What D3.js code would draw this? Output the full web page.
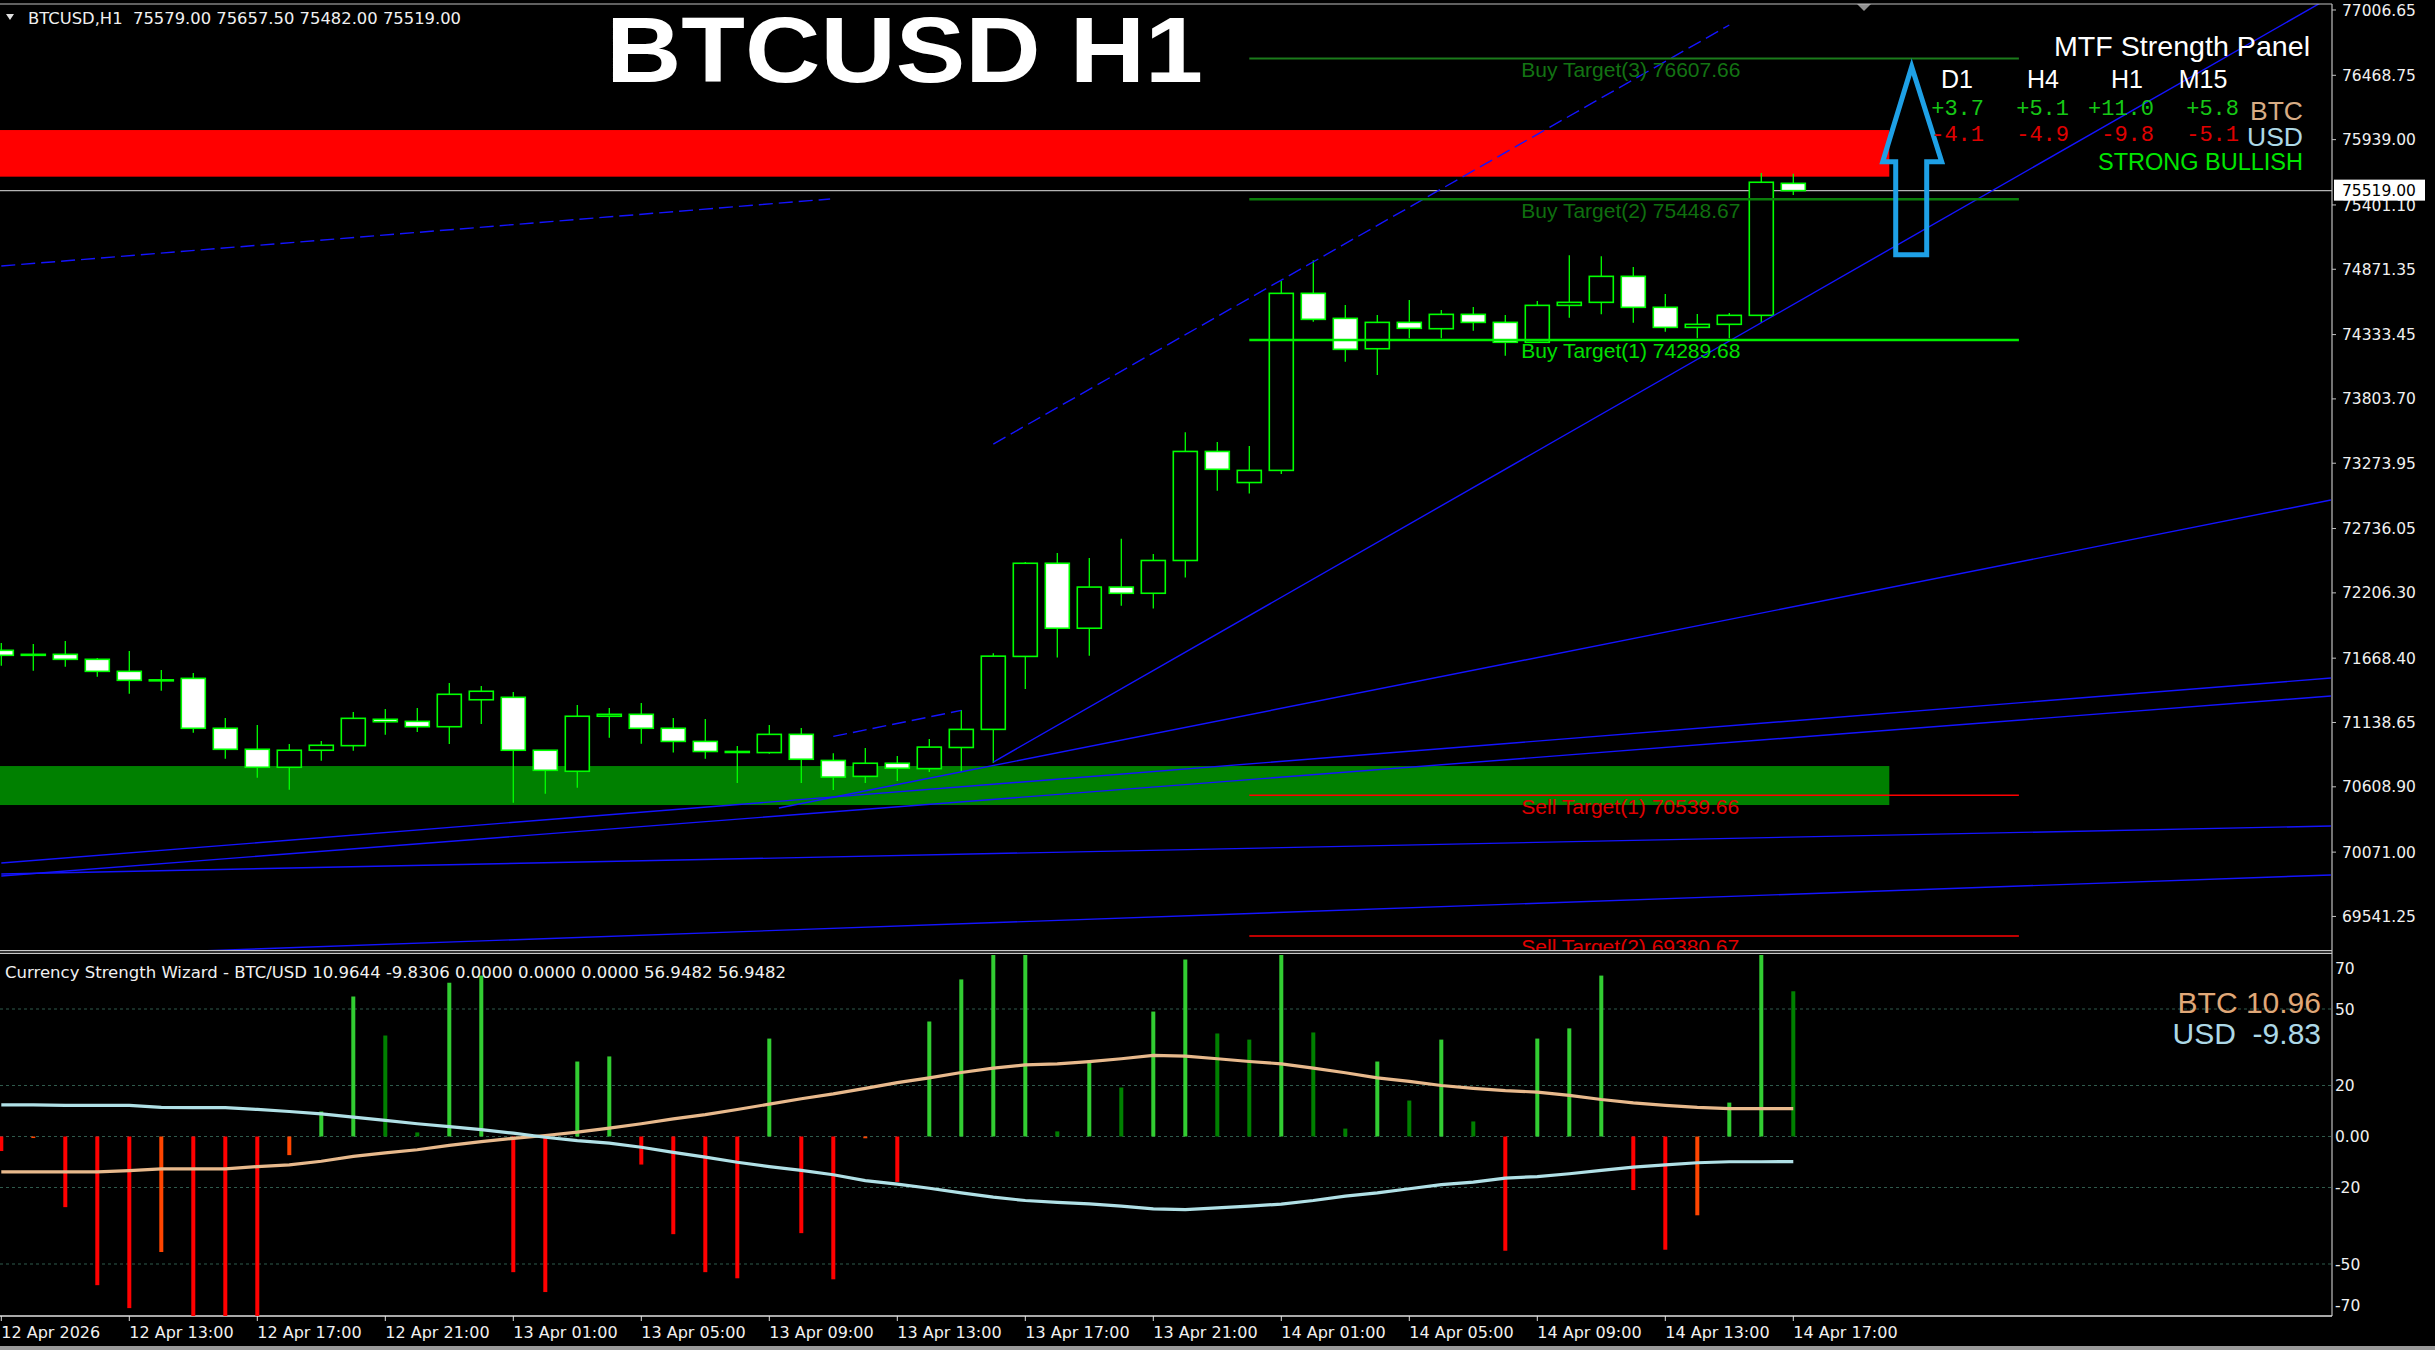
<!DOCTYPE html>
<html>
<head>
<meta charset="utf-8">
<script src="https://cdn.jsdelivr.net/npm/d3@7.9.0/dist/d3.min.js"></script>
<style>
html, body { margin: 0; padding: 0; background: #000; }
svg { display: block; }
text { white-space: pre; }
</style>
</head>
<body>
<svg id="chart" width="2435" height="1350"></svg>
<script>
// ---- data ----
const xLabelText = ["12 Apr 2026", "12 Apr 13:00", "12 Apr 17:00", "12 Apr 21:00", "13 Apr 01:00",
    "13 Apr 05:00", "13 Apr 09:00", "13 Apr 13:00", "13 Apr 17:00", "13 Apr 21:00",
    "14 Apr 01:00", "14 Apr 05:00", "14 Apr 09:00", "14 Apr 13:00", "14 Apr 17:00"];

const openP = [71733, 71700, 71700, 71659, 71560, 71490, 71502, 71091, 70918, 70770,
    70910, 70948, 71165, 71148, 71104, 71326, 71346, 70910, 70737, 71190,
    71206, 71091, 70983, 70900, 70891, 71041, 70826, 70695, 70803, 70759,
    70933, 71082, 71683, 72450, 71915, 72254, 72203, 72473, 73371, 73115,
    73215, 74673, 74467, 74217, 74434, 74382, 74500, 74434, 74270, 74574,
    74599, 74813, 74558, 74393, 74418, 74492, 75579];
const highP = [71793, 71785, 71810, 71670, 71727, 71571, 71546, 71176, 71118, 70961,
    70986, 71225, 71250, 71258, 71464, 71439, 71390, 70910, 71283, 71258,
    71299, 71176, 71168, 70945, 71118, 71094, 70886, 70929, 70863, 71003,
    71241, 71709, 72460, 72535, 72494, 72651, 72527, 73530, 73448, 73416,
    74775, 74945, 74577, 74495, 74618, 74536, 74560, 74495, 74610, 74986,
    74978, 74890, 74668, 74503, 74511, 75664, 75657.5];
const lowP = [71606, 71565, 71598, 71516, 71376, 71400, 71054, 70840, 70684, 70585,
    70824, 70906, 71038, 71060, 70961, 71126, 70478, 70552, 70602, 71013,
    70964, 70891, 70841, 70641, 70882, 70641, 70583, 70641, 70657, 70730,
    70730, 70806, 71415, 71674, 71689, 72100, 72077, 72333, 73048, 73024,
    73185, 74440, 74110, 74000, 74303, 74303, 74365, 74160, 74266, 74472,
    74500, 74431, 74357, 74303, 74303, 74431, 75482];
const closeP = [71692, 71695, 71659, 71560, 71486, 71485, 71091, 70918, 70770, 70910,
    70951, 71173, 71145, 71104, 71371, 71396, 70910, 70745, 71190, 71206,
    71091, 70983, 70900, 70895, 71041, 70836, 70689, 70803, 70762, 70936,
    71082, 71685, 72450, 71915, 72254, 72203, 72473, 73371, 73224, 73215,
    74673, 74459, 74212, 74434, 74385, 74500, 74434, 74270, 74574, 74599,
    74813, 74558, 74393, 74418, 74492, 75588, 75519];

const priceTicks = [77006.65, 76468.75, 75939.00, 75401.10, 74871.35, 74333.45, 73803.70, 73273.95,
    72736.05, 72206.30, 71668.40, 71138.65, 70608.90, 70071.00, 69541.25];
const lastPrice = 75519.00;

const resistZone = [75634, 76018];
const supportZone = [70459, 70780];
const zoneEndBar = 59;

const targetNames = ["Buy Target(3)", "Buy Target(2)", "Buy Target(1)", "Sell Target(1)", "Sell Target(2)"];
const targetPrices = [76607.66, 75448.67, 74289.68, 70539.66, 69380.67];
const targetSpan = [39, 63.05];

// trend lines: [bar, price] start and end
const trendFrom = [[0, 74898], [31, 73432], [31, 70813], [24.3, 70434], [0, 69981], [0, 69874], [0, 69891], [6.2, 69257], [26, 71024]];
const trendTo = [[25.9, 75450], [54, 76883], [72.8, 77114], [72.8, 72971], [72.8, 71505], [72.8, 71357], [72.8, 70286], [72.8, 69883], [30, 71238]];
const trendDashed = [true, true, false, false, false, false, false, false, true];

const mtfFrames = ["D1", "H4", "H1", "M15"];
const mtfBtc = [3.7, 5.1, 11.0, 5.8];
const mtfUsd = [-4.1, -4.9, -9.8, -5.1];
const arrowTip = [59.7, 76540];

const histValues = [-5.7, -0.6, -27.7, -58.3, -67.3, -45.3, -75, -80, -85, -7.3,
    9.8, 54.9, 39.6, 1.6, 60.3, 63.1, -53.2, -61.0, 29.4, 31.4,
    -11.0, -38.3, -53.2, -55.6, 38.4, -37.9, -56.0, -0.7, -17.8, 45.1,
    61.6, 78, 85, 2.0, 29.8, 19.2, 49.0, 69.4, 40.4, 38.0,
    75, 40.8, 3.1, 29.4, 14.1, 38.0, 5.9, -44.8, 38.4, 42.4,
    63.1, -21.0, -44.4, -30.9, 13.3, 80, 56.9482];
const btcStrength = [-13.9, -13.9, -13.9, -13.9, -13.4, -12.7, -12.7, -12.7, -11.8, -11.1,
    -9.7, -7.8, -6.4, -5.2, -3.5, -2.0, -0.7, 0.4, 1.7, 3.3,
    5.0, 6.9, 8.6, 10.6, 12.7, 14.8, 16.7, 18.9, 21.1, 23.0,
    25.1, 26.8, 28.1, 28.5, 29.4, 30.5, 31.8, 31.5, 30.5, 29.4,
    28.5, 26.8, 25.0, 23.0, 21.6, 20.0, 18.9, 18.0, 17.4, 16.1,
    14.5, 13.2, 12.2, 11.4, 10.9, 10.9, 10.9644];
const usdStrength = [12.4, 12.4, 12.2, 12.2, 12.2, 11.4, 11.3, 11.3, 10.6, 9.8,
    8.9, 7.6, 6.3, 5.0, 3.9, 2.7, 1.3, -0.3, -1.6, -2.6,
    -4.2, -6.2, -8.1, -10.1, -11.8, -13.3, -15.0, -17.3, -18.7, -20.3,
    -22.1, -23.8, -25.1, -25.8, -26.4, -27.3, -28.4, -28.7, -28.0, -27.3,
    -26.5, -25.1, -23.4, -22.1, -20.5, -18.9, -17.9, -16.3, -15.7, -14.6,
    -13.3, -12.0, -11.1, -10.3, -9.9, -9.9, -9.8306];
const cswValues = [10.9644, -9.8306, 0, 0, 0, 56.9482, 56.9482];
const subTicks = [70, 50, 20, 0, -20, -50, -70];
const subLevels = [50, 20, 0, -20, -50];

// ---- layout ----
const W = 2435, H = 1350;
const axisX = 2332;
const mainTop = 4, mainBottom = 950;
const subTop = 955, subBottom = 1316;
const font = "'DejaVu Sans', sans-serif";
const arial = "'Liberation Sans', Arial, sans-serif";

const svg = d3.select("#chart");
svg.append("rect").attr("width", W).attr("height", H).attr("fill", "#000");

const x = d3.scaleLinear().domain([0, 56]).range([1.3, 1793.3]);
const y = d3.scaleLinear().domain([77089, 69265]).range([0, 950]);
const ys = d3.scaleLinear().domain([70, -70]).range([958, 1315]);

const defs = svg.append("defs");
defs.append("clipPath").attr("id", "clipMain")
    .append("rect").attr("x", 0).attr("y", mainTop).attr("width", axisX).attr("height", mainBottom - mainTop);
defs.append("clipPath").attr("id", "clipSub")
    .append("rect").attr("x", 0).attr("y", subTop).attr("width", axisX).attr("height", subBottom - subTop);

const main = svg.append("g").attr("clip-path", "url(#clipMain)");

// zones
main.append("rect")
    .attr("x", x(-0.1)).attr("width", x(zoneEndBar) - x(-0.1))
    .attr("y", y(resistZone[1])).attr("height", y(resistZone[0]) - y(resistZone[1]))
    .attr("fill", "#ff0000");
main.append("rect")
    .attr("x", x(-0.1)).attr("width", x(zoneEndBar) - x(-0.1))
    .attr("y", y(supportZone[1])).attr("height", y(supportZone[0]) - y(supportZone[1]))
    .attr("fill", "#008000");

// current price line
main.append("line")
    .attr("x1", 0).attr("x2", axisX)
    .attr("y1", y(lastPrice)).attr("y2", y(lastPrice))
    .attr("stroke", "#b4b4b4").attr("stroke-width", 1.2);

// candles
const candles = main.append("g");
d3.range(openP.length).forEach(i => {
    const cx = x(i);
    const o = openP[i], c = closeP[i];
    candles.append("line")
        .attr("x1", cx).attr("x2", cx)
        .attr("y1", y(highP[i])).attr("y2", y(lowP[i]))
        .attr("stroke", "#00ff00").attr("stroke-width", 1.3);
    const top = y(Math.max(o, c)), bot = y(Math.min(o, c));
    candles.append("rect")
        .attr("x", cx - 12).attr("width", 24)
        .attr("y", top).attr("height", Math.max(1, bot - top))
        .attr("fill", o > c ? "#ffffff" : "#000000")
        .attr("stroke", "#00ff00").attr("stroke-width", 1.6);
});

// blue trend lines
trendFrom.forEach((f, i) => {
    main.append("line")
        .attr("x1", x(f[0])).attr("y1", y(f[1]))
        .attr("x2", x(trendTo[i][0])).attr("y2", y(trendTo[i][1]))
        .attr("stroke", "#1414ff").attr("stroke-width", 1.4)
        .attr("stroke-dasharray", trendDashed[i] ? "14,6" : null);
});

// target lines
const lineColors = ["#1b7a1b", "#0b7d0b", "#00ee00", "#ff0000", "#ff0000"];
const textColors = ["#137313", "#0f6f0f", "#00e000", "#e00000", "#e00000"];
const lineWidths = [2, 2.5, 2.5, 1.5, 1.5];
targetPrices.forEach((p, i) => {
    main.append("line")
        .attr("x1", x(targetSpan[0])).attr("x2", x(targetSpan[1]))
        .attr("y1", y(p)).attr("y2", y(p))
        .attr("stroke", lineColors[i]).attr("stroke-width", lineWidths[i]);
    main.append("text")
        .attr("x", x(47.5)).attr("y", y(p) + 18.5)
        .attr("font-family", arial).attr("font-size", 21)
        .attr("fill", textColors[i])
        .text(`${targetNames[i]} ${p.toFixed(2)}`);
});

// header + title
svg.append("path").attr("d", "M6,14 L14,14 L10,20 Z").attr("fill", "#e0e0e0");
svg.append("text")
    .attr("x", 28).attr("y", 24)
    .attr("font-family", font).attr("font-size", 15).attr("fill", "#f0f0f0")
    .attr("textLength", 433).attr("lengthAdjust", "spacingAndGlyphs")
    .text(`BTCUSD,H1  ${openP[56].toFixed(2)} ${highP[56].toFixed(2)} ${lowP[56].toFixed(2)} ${closeP[56].toFixed(2)}`);
svg.append("text")
    .attr("x", 606).attr("y", 82)
    .attr("font-family", arial).attr("font-weight", "bold").attr("font-size", 92)
    .attr("fill", "#ffffff")
    .attr("textLength", 597).attr("lengthAdjust", "spacingAndGlyphs")
    .text("BTCUSD H1");
svg.append("path").attr("d", "M1857,4 L1871,4 L1864,11 Z").attr("fill", "#909090");

// arrow
const ax = x(arrowTip[0]), ay = y(arrowTip[1]);
svg.append("path")
    .attr("d", `M${ax},${ay} L${ax + 30},${ay + 95} L${ax + 15},${ay + 95} L${ax + 15},${ay + 188}
        L${ax - 16},${ay + 188} L${ax - 16},${ay + 95} L${ax - 29},${ay + 95} Z`)
    .attr("fill", "none").attr("stroke", "#1ea0e6").attr("stroke-width", 5)
    .attr("stroke-linejoin", "miter");

// MTF panel
svg.append("text").attr("x", 2310).attr("y", 56).attr("text-anchor", "end")
    .attr("font-family", arial).attr("font-size", 28).attr("fill", "#ffffff")
    .attr("textLength", 256).attr("lengthAdjust", "spacingAndGlyphs")
    .text("MTF Strength Panel");
const frameCx = [1957, 2043, 2127, 2203];
const valRight = [1984, 2069, 2154, 2239];
const fmt1 = v => (v > 0 ? "+" : "") + v.toFixed(1);
mtfFrames.forEach((f, i) => {
    svg.append("text").attr("x", frameCx[i]).attr("y", 88).attr("text-anchor", "middle")
        .attr("font-family", arial).attr("font-size", 25).attr("fill", "#ffffff").text(f);
    svg.append("text").attr("x", valRight[i]).attr("y", 115).attr("text-anchor", "end")
        .attr("font-family", "'Liberation Mono', monospace").attr("font-size", 22).attr("fill", "#16c816")
        .text(fmt1(mtfBtc[i]));
    svg.append("text").attr("x", valRight[i]).attr("y", 141).attr("text-anchor", "end")
        .attr("font-family", "'Liberation Mono', monospace").attr("font-size", 22).attr("fill", "#e00000")
        .text(fmt1(mtfUsd[i]));
});
svg.append("text").attr("x", 2303).attr("y", 120).attr("text-anchor", "end")
    .attr("font-family", arial).attr("font-size", 26.5).attr("fill", "#d8ad85").text("BTC");
svg.append("text").attr("x", 2303).attr("y", 146).attr("text-anchor", "end")
    .attr("font-family", arial).attr("font-size", 26.5).attr("fill", "#add8e6").text("USD");
svg.append("text").attr("x", 2303).attr("y", 170).attr("text-anchor", "end")
    .attr("font-family", arial).attr("font-size", 23.5).attr("fill", "#00e600").text("STRONG BULLISH");

// price axis
svg.append("line").attr("x1", 0).attr("x2", axisX).attr("y1", mainTop).attr("y2", mainTop)
    .attr("stroke", "#c0c0c0").attr("stroke-width", 1.2);
svg.append("line").attr("x1", axisX).attr("x2", axisX).attr("y1", mainTop).attr("y2", subBottom)
    .attr("stroke", "#c0c0c0").attr("stroke-width", 1.2);
priceTicks.forEach(p => {
    svg.append("line").attr("x1", axisX).attr("x2", axisX + 4).attr("y1", y(p)).attr("y2", y(p))
        .attr("stroke", "#c0c0c0");
    svg.append("text").attr("x", 2342).attr("y", y(p)).attr("dy", "0.36em")
        .attr("font-family", font).attr("font-size", 15.5).attr("fill", "#f0f0f0")
        .text(p.toFixed(2));
});
svg.append("rect").attr("x", 2334).attr("y", y(lastPrice) - 11).attr("width", 91).attr("height", 21)
    .attr("fill", "#ffffff");
svg.append("text").attr("x", 2342).attr("y", y(lastPrice)).attr("dy", "0.36em")
    .attr("font-family", font).attr("font-size", 15.5).attr("fill", "#000000")
    .text(lastPrice.toFixed(2));

// panel separators
[950.7, 953.3].forEach(v => svg.append("line").attr("x1", 0).attr("x2", axisX).attr("y1", v).attr("y2", v)
    .attr("stroke", "#c8c8c8").attr("stroke-width", 1.2));
svg.append("line").attr("x1", 0).attr("x2", axisX).attr("y1", subBottom).attr("y2", subBottom)
    .attr("stroke", "#e0e0e0").attr("stroke-width", 1.5);

// ---- sub panel ----
const sub = svg.append("g").attr("clip-path", "url(#clipSub)");
subLevels.forEach(v => {
    sub.append("line").attr("x1", 0).attr("x2", axisX).attr("y1", ys(v)).attr("y2", ys(v))
        .attr("stroke", "#2f5a4c").attr("stroke-width", 1.2).attr("stroke-dasharray", "3,3");
});
histValues.forEach((v, i) => {
    const prev = i > 0 ? histValues[i - 1] : 0;
    let col;
    if (v >= 0) col = (prev < 0 || v >= prev) ? "#32cd32" : "#008000";
    else col = (prev > 0 || v <= prev || i === 0) ? "#ff0000" : "#ff4500";
    sub.append("rect")
        .attr("x", x(i) - 2).attr("width", 4)
        .attr("y", Math.min(ys(0), ys(v))).attr("height", Math.abs(ys(v) - ys(0)))
        .attr("fill", col);
});
const strLine = d3.line().x((d, i) => x(i)).y(d => ys(d));
sub.append("path").datum(btcStrength).attr("d", strLine)
    .attr("fill", "none").attr("stroke", "#e8b98c").attr("stroke-width", 3.2);
sub.append("path").datum(usdStrength).attr("d", strLine)
    .attr("fill", "none").attr("stroke", "#b0e0e6").attr("stroke-width", 3.2);

svg.append("text").attr("x", 5).attr("y", 978)
    .attr("font-family", font).attr("font-size", 15).attr("fill", "#f0f0f0")
    .attr("textLength", 781).attr("lengthAdjust", "spacingAndGlyphs")
    .text("Currency Strength Wizard - BTC/USD " + cswValues.map(v => v.toFixed(4)).join(" "));

svg.append("text").attr("x", 2321).attr("y", 1013).attr("text-anchor", "end")
    .attr("font-family", arial).attr("font-size", 30).attr("fill", "#e0a878")
    .text("BTC " + btcStrength[56].toFixed(2));
svg.append("text").attr("x", 2321).attr("y", 1044).attr("text-anchor", "end")
    .attr("font-family", arial).attr("font-size", 30).attr("fill", "#add8e6")
    .text("USD  " + usdStrength[56].toFixed(2));

subTicks.forEach(v => {
    const ty = v === 70 ? ys(v) + 10 : v === -70 ? ys(v) - 10 : ys(v);
    svg.append("text").attr("x", 2335).attr("y", ty).attr("dy", "0.36em")
        .attr("font-family", font).attr("font-size", 15.5).attr("fill", "#f0f0f0")
        .text(v === 0 ? "0.00" : String(v));
});

// time axis
xLabelText.forEach((t, k) => {
    const tx = x(k * 4);
    svg.append("line").attr("x1", tx).attr("x2", tx).attr("y1", subBottom).attr("y2", subBottom + 5)
        .attr("stroke", "#e0e0e0");
    svg.append("text").attr("x", Math.max(1, tx)).attr("y", 1338)
        .attr("font-family", font).attr("font-size", 16).attr("fill", "#f0f0f0")
        .text(t);
});
svg.append("rect").attr("x", 0).attr("y", 1346).attr("width", W).attr("height", 4).attr("fill", "#9a9a9a");
</script>
</body>
</html>
